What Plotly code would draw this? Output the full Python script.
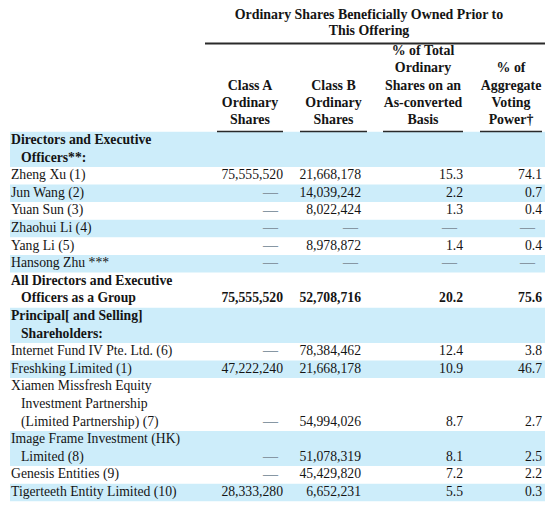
import plotly.graph_objects as go

# ---------------- data ----------------
title_lines = ["Ordinary Shares Beneficially Owned Prior to", "This Offering"]
col_headers = [
    ["Class A", "Ordinary", "Shares"],
    ["Class B", "Ordinary", "Shares"],
    ["% of Total", "Ordinary", "Shares on an", "As-converted", "Basis"],
    ["% of", "Aggregate", "Voting", "Power†"],
]
row_labels = [
    ["Directors and Executive", "Officers**:"],
    ["Zheng Xu (1)"],
    ["Jun Wang (2)"],
    ["Yuan Sun (3)"],
    ["Zhaohui Li (4)"],
    ["Yang Li (5)"],
    ["Hansong Zhu ***"],
    ["All Directors and Executive", "Officers as a Group"],
    ["Principal[ and Selling]", "Shareholders:"],
    ["Internet Fund IV Pte. Ltd. (6)"],
    ["Freshking Limited (1)"],
    ["Xiamen Missfresh Equity", "Investment Partnership", "(Limited Partnership) (7)"],
    ["Image Frame Investment (HK)", "Limited (8)"],
    ["Genesis Entities (9)"],
    ["Tigerteeth Entity Limited (10)"],
]
row_bold = [True, False, False, False, False, False, False, True, True,
            False, False, False, False, False, False]
row_is_section = [True, False, False, False, False, False, False, False, True,
                  False, False, False, False, False, False]
class_a = [None, 75555520, None, None, None, None, None, 75555520, None,
           None, 47222240, None, None, None, 28333280]
class_b = [None, 21668178, 14039242, 8022424, None, 8978872, None, 52708716, None,
           78384462, 21668178, 54994026, 51078319, 45429820, 6652231]
pct_total = [None, 15.3, 2.2, 1.3, None, 1.4, None, 20.2, None,
             12.4, 10.9, 8.7, 8.1, 7.2, 5.5]
pct_vote = [None, 74.1, 0.7, 0.4, None, 0.4, None, 75.6, None,
            3.8, 46.7, 2.7, 2.5, 2.2, 0.3]

# ---------------- layout constants ----------------
W, H = 553, 509
PAGE_OFF = 8  # default page margin of the html body
FONT = "Liberation Serif, Times New Roman, serif"
FS = 13.7
FS_H = 13.9
FS_DASH = 15
TXT = "#141414"
DASH = "#8797a3"
BAND = "#cdedfa"
LINE_H = 17.6
BODY_Y0 = 140.5
LABEL_X = 11
INDENT_X = 21
col_right = [283, 361, 463, 542]
col_left_rule = [217, 300, 383, 480]
col_right_rule = [283, 367, 463, 542]
dash_inset = [5, 3, 6, 7]
title_y = [15.5, 32]
title_x = 369
span_rule = (205, 546, 43.5)
hdr_bottom_y = 121
hdr_step = 17.4
sub_rule_y = 131.5
band_x = (10, 551)

fig = go.Figure()
shapes = []

line_idx = 0
label_x, label_y, label_t = [], [], []
num_x, num_y, num_t = [], [], []
dash_x, dash_y = [], []
for i, lines in enumerate(row_labels):
    n = len(lines)
    top = BODY_Y0 + (line_idx - 0.5) * LINE_H
    bot = BODY_Y0 + (line_idx + n - 0.5) * LINE_H
    if i % 2 == 0:
        shapes.append(dict(type="rect", xref="x", yref="y", x0=band_x[0], x1=band_x[1],
                           y0=top, y1=bot, fillcolor=BAND, line=dict(width=0), layer="below"))
    for k, t in enumerate(lines):
        y = BODY_Y0 + (line_idx + k) * LINE_H
        label_x.append(LABEL_X if k == 0 else INDENT_X)
        label_y.append(y)
        label_t.append(f"<b>{t}</b>" if row_bold[i] else t)
    ylast = BODY_Y0 + (line_idx + n - 1) * LINE_H
    if not row_is_section[i]:
        vals = [
            None if class_a[i] is None else f"{class_a[i]:,}",
            None if class_b[i] is None else f"{class_b[i]:,}",
            None if pct_total[i] is None else f"{pct_total[i]:.1f}",
            None if pct_vote[i] is None else f"{pct_vote[i]:.1f}",
        ]
        for c, v in enumerate(vals):
            if v is None:
                dash_x.append(col_right[c] - dash_inset[c])
                dash_y.append(ylast)
            else:
                num_x.append(col_right[c])
                num_y.append(ylast)
                num_t.append(f"<b>{v}</b>" if row_bold[i] else v)
    line_idx += n

fig.add_trace(go.Scatter(x=label_x, y=label_y, text=label_t, mode="text",
                         textposition="middle right", hoverinfo="skip", cliponaxis=False,
                         textfont=dict(family=FONT, size=FS, color=TXT)))
fig.add_trace(go.Scatter(x=num_x, y=num_y, text=num_t, mode="text",
                         textposition="middle left", hoverinfo="skip", cliponaxis=False,
                         textfont=dict(family=FONT, size=FS, color=TXT)))
fig.add_trace(go.Scatter(x=dash_x, y=dash_y, text=["<b>—</b>"] * len(dash_x), mode="text",
                         textposition="middle left", hoverinfo="skip", cliponaxis=False,
                         textfont=dict(family=FONT, size=FS_DASH, color=DASH)))

hx, hy, ht = [], [], []
for k, t in enumerate(title_lines):
    hx.append(title_x); hy.append(title_y[k]); ht.append(f"<b>{t}</b>")
for c, lines in enumerate(col_headers):
    cx = (col_left_rule[c] + col_right_rule[c]) / 2
    n = len(lines)
    for k, t in enumerate(lines):
        hx.append(cx)
        hy.append(hdr_bottom_y - (n - 1 - k) * hdr_step)
        ht.append(f"<b>{t}</b>")
fig.add_trace(go.Scatter(x=hx, y=hy, text=ht, mode="text", textposition="middle center",
                         hoverinfo="skip", cliponaxis=False,
                         textfont=dict(family=FONT, size=FS_H, color=TXT)))

shapes.append(dict(type="line", xref="x", yref="y", x0=span_rule[0], x1=span_rule[1],
                   y0=span_rule[2], y1=span_rule[2], line=dict(color="#2a2a2a", width=2)))
for c in range(4):
    shapes.append(dict(type="line", xref="x", yref="y", x0=col_left_rule[c], x1=col_right_rule[c],
                       y0=sub_rule_y, y1=sub_rule_y, line=dict(color="#2a2a2a", width=1.5)))

fig.update_layout(
    width=W, height=H, margin=dict(l=0, r=0, t=0, b=0),
    paper_bgcolor="white", plot_bgcolor="white", showlegend=False,
    shapes=shapes,
    xaxis=dict(range=[PAGE_OFF, W + PAGE_OFF], visible=False, fixedrange=True),
    yaxis=dict(range=[H + PAGE_OFF, PAGE_OFF], visible=False, fixedrange=True),
)
fig.write_html("out.html")
